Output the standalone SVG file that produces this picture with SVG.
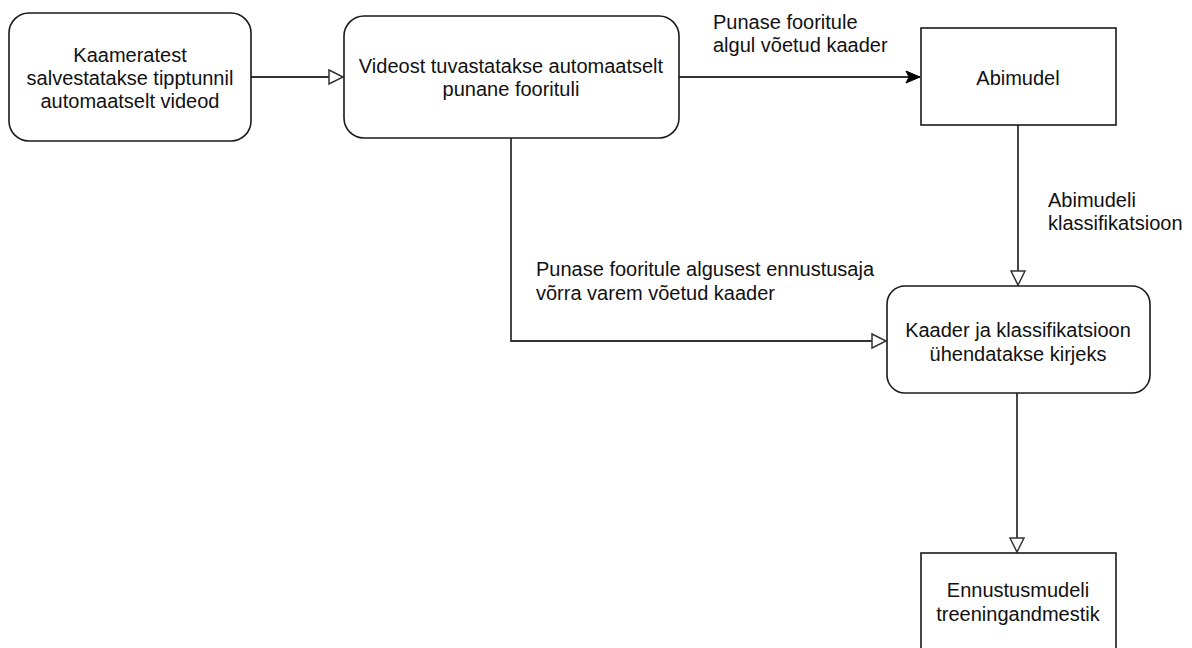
<svg xmlns="http://www.w3.org/2000/svg" width="1192" height="648" viewBox="0 0 1192 648">
<style>
.box{fill:#ffffff;stroke:#1a1a1a;stroke-width:1.6}
.t{font-family:"Liberation Sans",Arial,sans-serif;font-size:20px;fill:#111}
.c{text-anchor:middle}
.edge{fill:none;stroke:#333333;stroke-width:1.8}
</style>
<defs>
<marker id="hollow" markerUnits="userSpaceOnUse" markerWidth="18" markerHeight="18" viewBox="0 0 18 18" refX="16" refY="9" orient="auto">
<path d="M2,2 L16,9 L2,16 Z" fill="#ffffff" stroke="#333333" stroke-width="1.5"/>
</marker>
<marker id="filled" markerUnits="userSpaceOnUse" markerWidth="18" markerHeight="18" viewBox="0 0 18 18" refX="16" refY="9" orient="auto">
<path d="M2,3 L16,9 L2,15 L5,9 Z" fill="#000000" stroke="#000000" stroke-width="1"/>
</marker>
</defs>
<rect width="1192" height="648" fill="#ffffff"/>
<g id="connectors">
<path class="edge" d="M251,77 L343,77" marker-end="url(#hollow)"/>
<path class="edge" d="M679,77 L920,77" marker-end="url(#filled)"/>
<path class="edge" d="M1018,125 L1018,285" marker-end="url(#hollow)"/>
<path class="edge" d="M511,138 L511,341 L886,341" marker-end="url(#hollow)"/>
<path class="edge" d="M1017,393 L1017,552" marker-end="url(#hollow)"/>
<text class="t" x="713" y="29">Punase fooritule</text>
<text class="t" x="713" y="52">algul võetud kaader</text>
<text class="t" x="1048" y="207">Abimudeli</text>
<text class="t" x="1048" y="230">klassifikatsioon</text>
<text class="t" x="536" y="276">Punase fooritule algusest ennustusaja</text>
<text class="t" x="536" y="300">võrra varem võetud kaader</text>
</g>
<g id="node1">
<rect class="box" x="9" y="13" width="242" height="128" rx="20" ry="20"/>
<text class="t c" x="130" y="62">Kaameratest</text>
<text class="t c" x="130" y="85">salvestatakse tipptunnil</text>
<text class="t c" x="130" y="108">automaatselt videod</text>
</g>
<g id="node2">
<rect class="box" x="344" y="16" width="335" height="122" rx="20" ry="20"/>
<text class="t c" x="511" y="73">Videost tuvastatakse automaatselt</text>
<text class="t c" x="511" y="96">punane foorituli</text>
</g>
<g id="node3">
<rect class="box" x="921" y="28" width="195" height="97"/>
<text class="t c" x="1018" y="85">Abimudel</text>
</g>
<g id="node4">
<rect class="box" x="887" y="286" width="263" height="107" rx="18" ry="18"/>
<text class="t c" x="1018" y="337">Kaader ja klassifikatsioon</text>
<text class="t c" x="1018" y="361">ühendatakse kirjeks</text>
</g>
<g id="node5">
<rect class="box" x="921" y="553" width="195" height="110"/>
<text class="t c" x="1018" y="597">Ennustusmudeli</text>
<text class="t c" x="1018" y="621">treeningandmestik</text>
</g>
</svg>
